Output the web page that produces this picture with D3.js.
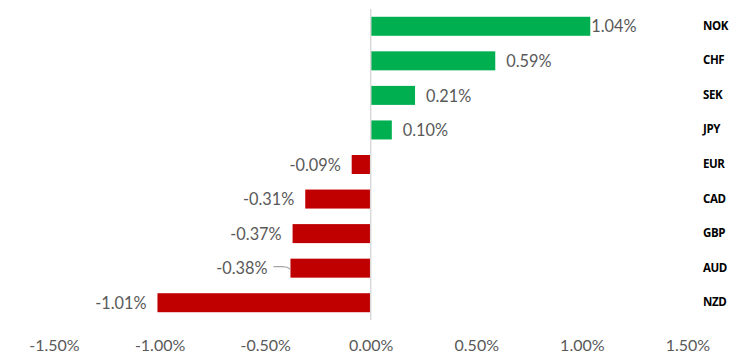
<!DOCTYPE html>
<html><head><meta charset="utf-8">
<script src="https://cdn.jsdelivr.net/npm/d3@7"></script>
<style>body{margin:0;background:#fff}svg{display:block}</style>
</head><body><svg id="c" width="737" height="359"></svg>
<script>
const categories = ["NOK","CHF","SEK","JPY","EUR","CAD","GBP","AUD","NZD"];
const values = [1.04, 0.59, 0.21, 0.10, -0.09, -0.31, -0.37, -0.38, -1.01];
const tickValues = [-1.5, -1.0, -0.5, 0, 0.5, 1.0, 1.5];

const svg = d3.select("#c");
const x = d3.scaleLinear().domain([-1.5, 1.5]).range([54, 687.4]);
const y = d3.scaleBand().domain(categories).range([9, 320]).paddingInner(0.45).paddingOuter(0.225);
const fmt = v => d3.format(".2f")(v).replace("\u2212", "-") + "%";
const font = "Lato, 'Open Sans', sans-serif";

// bars
svg.append("g").selectAll("rect").data(categories).join("rect")
  .attr("x", (d,i) => Math.min(x(0), x(values[i])))
  .attr("width", (d,i) => Math.abs(x(values[i]) - x(0)))
  .attr("y", d => y(d)).attr("height", y.bandwidth())
  .attr("fill", (d,i) => values[i] >= 0 ? "#00B050" : "#C00000");

// zero axis line
svg.append("line").attr("x1", x(0)).attr("x2", x(0)).attr("y1", 9).attr("y2", 320)
  .attr("stroke", "#D9D9D9").attr("stroke-width", 1.5);

// x axis labels
const ax = d3.axisBottom(x).tickValues(tickValues).tickFormat(fmt).tickSize(0).tickPadding(0);
const g = svg.append("g").attr("transform", "translate(0,339.5)").call(ax);
g.select(".domain").remove();
g.selectAll("text").attr("font-family", font).attr("font-size", 16).attr("fill", "#595959").attr("dy", "0.71em");

// category labels
svg.append("g").selectAll("text").data(categories).join("text")
  .attr("x", 703).attr("y", d => y(d) + y.bandwidth()/2 - 0.5).attr("dy", "0.35em")
  .attr("font-family", "'Open Sans', Lato, sans-serif").attr("font-weight", "bold").attr("font-size", 11.5)
  .attr("letter-spacing", -0.4)
  .attr("fill", "#000").text(d => d);

// data labels
const labelGap = 11;
svg.append("g").selectAll("text").data(categories).join("text")
  .attr("x", (d,i) => {
    const v = values[i];
    if (v >= 0) {
      const px = x(v) + labelGap;
      return px + 47 > 640 ? x(v) + 1 : px;
    }
    return d === "AUD" ? x(v) - 23 : x(v) - labelGap;
  })
  .attr("text-anchor", (d,i) => values[i] >= 0 ? "start" : "end")
  .attr("y", d => y(d) + y.bandwidth()/2 + 0.5).attr("dy", "0.35em")
  .attr("font-family", font).attr("font-size", 16.3).attr("fill", "#595959")
  .text((d,i) => fmt(values[i]));

// leader line for AUD
const ia = categories.indexOf("AUD");
const ly = y("AUD") + y.bandwidth()/2 - 1.5;
const x0 = x(values[ia]) - 17, x1 = x(values[ia]);
svg.append("path")
  .attr("d", `M${x0},${ly} L${x1-8},${ly} Q${x1-3},${ly} ${x1},${ly+2.5}`)
  .attr("fill", "none").attr("stroke", "#A6A6A6").attr("stroke-width", 1.3);
</script></body></html>
